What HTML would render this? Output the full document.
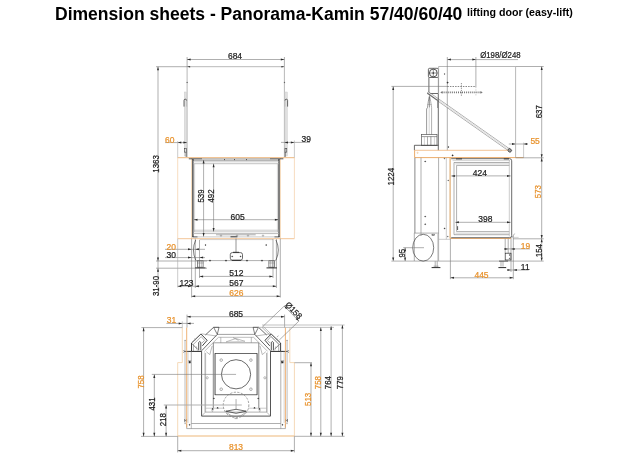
<!DOCTYPE html>
<html><head><meta charset="utf-8"><title>Dimension sheets</title>
<style>
html,body{margin:0;padding:0;background:#fff;}
body{width:624px;height:460px;overflow:hidden;position:relative;font-family:"Liberation Sans",sans-serif;}
svg{position:absolute;left:0;top:0;}
.wrap{position:absolute;left:0;top:0;width:624px;height:460px;will-change:transform;}
svg text{font-family:"Liberation Sans",sans-serif;stroke-width:0.22px;}
.title{position:absolute;left:55px;top:3.5px;font-size:17.55px;font-weight:bold;color:#000;white-space:nowrap;line-height:20px;letter-spacing:0px;}
.sub{position:absolute;left:467px;top:6px;font-size:10.65px;font-weight:bold;color:#000;white-space:nowrap;line-height:12px;}
</style></head><body>
<div class="wrap"><div class="title">Dimension sheets - Panorama-Kamin 57/40/60/40</div>
<div class="sub">lifting door (easy-lift)</div>
<svg width="624" height="460" viewBox="0 0 624 460">
<line x1="187" y1="66.7" x2="284.4" y2="66.7" stroke="#a6a6a6" stroke-width="0.8"/>
<line x1="187.1" y1="57" x2="187.1" y2="66.7" stroke="#787878" stroke-width="0.6"/>
<line x1="284.4" y1="57" x2="284.4" y2="66.7" stroke="#787878" stroke-width="0.6"/>
<line x1="187.1" y1="66.7" x2="187.1" y2="157" stroke="#a6a6a6" stroke-width="0.8"/>
<line x1="284.4" y1="66.7" x2="284.4" y2="157" stroke="#a6a6a6" stroke-width="0.8"/>
<circle cx="187.1" cy="82.4" r="0.4" fill="#2a2a2a" stroke="#2a2a2a" stroke-width="0.3"/>
<circle cx="284.4" cy="82.4" r="0.4" fill="#2a2a2a" stroke="#2a2a2a" stroke-width="0.3"/>
<rect x="184.3" y="92" width="2.4" height="64" rx="0" fill="#e0e0e0" stroke="#c4c4c4" stroke-width="0.4"/>
<rect x="284.9" y="92" width="2.4" height="64" rx="0" fill="#e0e0e0" stroke="#c4c4c4" stroke-width="0.4"/>
<path d="M184.0 106.6 V100.4 Q184.0 99.2 185.3 99.2 Q186.6 99.2 186.6 100.6" fill="none" stroke="#2a2a2a" stroke-width="0.7"/>
<path d="M287.6 106.6 V100.4 Q287.6 99.2 286.3 99.2 Q285.0 99.2 285.0 100.6" fill="none" stroke="#2a2a2a" stroke-width="0.7"/>
<line x1="186.6" y1="100.6" x2="186.6" y2="106.6" stroke="#a8a8a8" stroke-width="0.5"/>
<line x1="285.0" y1="100.6" x2="285.0" y2="106.6" stroke="#a8a8a8" stroke-width="0.5"/>
<rect x="184.6" y="148.5" width="1.8" height="3.6" rx="0" fill="none" stroke="#2a2a2a" stroke-width="0.5"/>
<rect x="285.0" y="148.5" width="1.8" height="3.6" rx="0" fill="none" stroke="#2a2a2a" stroke-width="0.5"/>
<line x1="186.2" y1="152" x2="186.2" y2="157" stroke="#2a2a2a" stroke-width="0.6"/>
<line x1="285.2" y1="152" x2="285.2" y2="157" stroke="#2a2a2a" stroke-width="0.6"/>
<polygon points="187.1,66.7 190.1,65.9 190.1,67.5" fill="#2a2a2a"/>
<polygon points="284.4,66.7 281.4,65.9 281.4,67.5" fill="#2a2a2a"/>
<line x1="187" y1="59.5" x2="284.4" y2="59.5" stroke="#787878" stroke-width="0.6"/>
<polygon points="187,59.5 190.6,58.5 190.6,60.5" fill="#2a2a2a"/>
<polygon points="284.4,59.5 280.79999999999995,58.5 280.79999999999995,60.5" fill="#2a2a2a"/>
<text transform="translate(235,59.4) scale(1,1.11)" x="0" y="0" fill="#222222" stroke="#222222" font-size="8.5" text-anchor="middle" font-weight="normal">684</text>
<line x1="156" y1="66.7" x2="187" y2="66.7" stroke="#787878" stroke-width="0.6"/>
<line x1="158" y1="66.7" x2="158" y2="296" stroke="#787878" stroke-width="0.6"/>
<polygon points="158,66.7 157.0,70.3 159.0,70.3" fill="#2a2a2a"/>
<text transform="translate(158.6,164) rotate(-90) scale(0.925,1.05)" x="0" y="0" fill="#222222" stroke="#222222" font-size="8.5" text-anchor="middle" font-weight="normal">1363</text>
<line x1="177.7" y1="157.7" x2="294.4" y2="157.7" stroke="#e9a35a" stroke-width="0.8"/>
<line x1="177.7" y1="238.7" x2="294.4" y2="238.7" stroke="#efb57c" stroke-width="0.8"/>
<line x1="177.7" y1="157.7" x2="177.7" y2="238.6" stroke="#f3cfa6" stroke-width="0.7"/>
<line x1="294.4" y1="157.7" x2="294.4" y2="238.6" stroke="#f3cfa6" stroke-width="0.7"/>
<line x1="191.6" y1="158" x2="191.6" y2="238" stroke="#f3cfa6" stroke-width="0.8"/>
<line x1="280.4" y1="158" x2="280.4" y2="238" stroke="#f3cfa6" stroke-width="0.8"/>
<line x1="165" y1="142.6" x2="187" y2="142.6" stroke="#787878" stroke-width="0.6"/>
<line x1="177.7" y1="141" x2="177.7" y2="157.7" stroke="#a8a8a8" stroke-width="0.6"/>
<polygon points="177.7,142.6 181.29999999999998,141.6 181.29999999999998,143.6" fill="#2a2a2a"/>
<polygon points="187,142.6 183.4,141.6 183.4,143.6" fill="#2a2a2a"/>
<text transform="translate(165,142.79999999999998) scale(1,1.11)" x="0" y="0" fill="#e8922c" stroke="#e8922c" font-size="8.5" text-anchor="start" font-weight="normal">60</text>
<line x1="281" y1="142.4" x2="310" y2="142.4" stroke="#787878" stroke-width="0.6"/>
<line x1="294.4" y1="140.5" x2="294.4" y2="157.7" stroke="#a8a8a8" stroke-width="0.6"/>
<polygon points="284.4,142.4 288.0,141.4 288.0,143.4" fill="#2a2a2a"/>
<polygon points="294.4,142.4 290.79999999999995,141.4 290.79999999999995,143.4" fill="#2a2a2a"/>
<text transform="translate(301.5,142.4) scale(1,1.11)" x="0" y="0" fill="#222222" stroke="#222222" font-size="8.5" text-anchor="start" font-weight="normal">39</text>
<line x1="192.9" y1="159" x2="192.9" y2="237" stroke="#2a2a2a" stroke-width="1.2"/>
<line x1="279.0" y1="159" x2="279.0" y2="237" stroke="#2a2a2a" stroke-width="1.2"/>
<line x1="188.8" y1="158.8" x2="202" y2="158.8" stroke="#2a2a2a" stroke-width="0.8"/>
<line x1="270" y1="158.8" x2="283.4" y2="158.8" stroke="#2a2a2a" stroke-width="0.8"/>
<line x1="202" y1="158.8" x2="270" y2="158.8" stroke="#787878" stroke-width="0.6"/>
<line x1="193" y1="160.2" x2="279" y2="160.2" stroke="#2a2a2a" stroke-width="0.5"/>
<line x1="193" y1="161.8" x2="279" y2="161.8" stroke="#a8a8a8" stroke-width="0.6"/>
<line x1="193" y1="163.7" x2="279" y2="163.7" stroke="#a8a8a8" stroke-width="0.7"/>
<line x1="194.6" y1="163.7" x2="194.6" y2="232" stroke="#a8a8a8" stroke-width="0.5"/>
<line x1="277.4" y1="163.7" x2="277.4" y2="232" stroke="#a8a8a8" stroke-width="0.5"/>
<line x1="193" y1="230.2" x2="279" y2="230.2" stroke="#a8a8a8" stroke-width="0.6"/>
<line x1="193" y1="231.8" x2="279" y2="231.8" stroke="#a8a8a8" stroke-width="0.6"/>
<line x1="193" y1="233.6" x2="279" y2="233.6" stroke="#a8a8a8" stroke-width="0.8"/>
<line x1="216" y1="234.8" x2="255.7" y2="234.8" stroke="#787878" stroke-width="0.6"/>
<line x1="192.4" y1="236.9" x2="197.6" y2="236.9" stroke="#2a2a2a" stroke-width="0.8"/>
<line x1="274.4" y1="236.9" x2="279.6" y2="236.9" stroke="#2a2a2a" stroke-width="0.8"/>
<line x1="197.6" y1="236.9" x2="274.4" y2="236.9" stroke="#a8a8a8" stroke-width="0.6"/>
<line x1="230.5" y1="236.8" x2="237.4" y2="236.8" stroke="#2a2a2a" stroke-width="0.9"/>
<line x1="224" y1="159.6" x2="225" y2="159.6" stroke="#2a2a2a" stroke-width="0.8"/>
<line x1="234" y1="159.6" x2="235" y2="159.6" stroke="#2a2a2a" stroke-width="0.8"/>
<line x1="246" y1="159.6" x2="247" y2="159.6" stroke="#2a2a2a" stroke-width="0.8"/>
<circle cx="221" cy="235.6" r="0.7" fill="none" stroke="#787878" stroke-width="0.5"/>
<circle cx="237" cy="235.6" r="0.7" fill="none" stroke="#787878" stroke-width="0.5"/>
<circle cx="248" cy="235.6" r="0.7" fill="none" stroke="#787878" stroke-width="0.5"/>
<circle cx="263" cy="235.6" r="0.7" fill="none" stroke="#787878" stroke-width="0.5"/>
<line x1="203.6" y1="160" x2="203.6" y2="236.6" stroke="#787878" stroke-width="0.6"/>
<polygon points="203.6,160 202.6,163.6 204.6,163.6" fill="#2a2a2a"/>
<polygon points="203.6,236.6 202.6,233.0 204.6,233.0" fill="#2a2a2a"/>
<line x1="213.6" y1="163.7" x2="213.6" y2="231.6" stroke="#787878" stroke-width="0.6"/>
<polygon points="213.6,163.7 212.6,167.29999999999998 214.6,167.29999999999998" fill="#2a2a2a"/>
<polygon points="213.6,231.6 212.6,228.0 214.6,228.0" fill="#2a2a2a"/>
<text transform="translate(203.6,196) rotate(-90) scale(0.925,1.05)" x="0" y="0" fill="#222222" stroke="#222222" font-size="8.5" text-anchor="middle" font-weight="normal">539</text>
<text transform="translate(213.6,196) rotate(-90) scale(0.925,1.05)" x="0" y="0" fill="#222222" stroke="#222222" font-size="8.5" text-anchor="middle" font-weight="normal">492</text>
<line x1="193.9" y1="219.7" x2="278.5" y2="219.7" stroke="#787878" stroke-width="0.6"/>
<polygon points="193.9,219.7 197.5,218.7 197.5,220.7" fill="#2a2a2a"/>
<polygon points="278.5,219.7 274.9,218.7 274.9,220.7" fill="#2a2a2a"/>
<text transform="translate(237.6,219.6) scale(1,1.11)" x="0" y="0" fill="#222222" stroke="#222222" font-size="8.5" text-anchor="middle" font-weight="normal">605</text>
<line x1="191.6" y1="238.6" x2="191.6" y2="297.5" stroke="#787878" stroke-width="0.6"/>
<line x1="195.3" y1="238.6" x2="195.3" y2="288" stroke="#787878" stroke-width="0.6"/>
<path d="M195.7 240 Q191.2 250 195.7 260" fill="none" stroke="#444" stroke-width="0.7"/>
<line x1="199.5" y1="240" x2="199.5" y2="278" stroke="#787878" stroke-width="0.6"/>
<line x1="195.3" y1="260.6" x2="276.2" y2="260.6" stroke="#787878" stroke-width="0.6"/>
<line x1="199.5" y1="239.6" x2="273" y2="239.6" stroke="#a8a8a8" stroke-width="0.5"/>
<circle cx="210" cy="260.6" r="0.6" fill="#2a2a2a" stroke="#2a2a2a" stroke-width="0.5"/>
<circle cx="226" cy="260.6" r="0.6" fill="#2a2a2a" stroke="#2a2a2a" stroke-width="0.5"/>
<circle cx="247" cy="260.6" r="0.6" fill="#2a2a2a" stroke="#2a2a2a" stroke-width="0.5"/>
<circle cx="262" cy="260.6" r="0.6" fill="#2a2a2a" stroke="#2a2a2a" stroke-width="0.5"/>
<circle cx="205.5" cy="245" r="0.5" fill="#2a2a2a" stroke="#2a2a2a" stroke-width="0.4"/>
<circle cx="266.2" cy="245" r="0.5" fill="#2a2a2a" stroke="#2a2a2a" stroke-width="0.4"/>
<line x1="273.0" y1="239" x2="273.0" y2="278" stroke="#787878" stroke-width="0.6"/>
<line x1="276.4" y1="239" x2="276.4" y2="288" stroke="#787878" stroke-width="0.6"/>
<line x1="280.3" y1="238.6" x2="280.3" y2="297.5" stroke="#787878" stroke-width="0.6"/>
<path d="M276.0 240 Q280.6 250 276.0 260" fill="none" stroke="#444" stroke-width="0.7"/>
<line x1="236.0" y1="238.6" x2="236.0" y2="252.5" stroke="#787878" stroke-width="0.8"/>
<rect x="230.3" y="252.6" width="12.2" height="7.6" rx="2" fill="#fff" stroke="#2a2a2a" stroke-width="0.7"/>
<line x1="233" y1="252.3" x2="239" y2="252.3" stroke="#2a2a2a" stroke-width="0.9"/>
<line x1="232" y1="260.4" x2="241" y2="260.4" stroke="#2a2a2a" stroke-width="0.9"/>
<circle cx="232.2" cy="256.4" r="0.5" fill="#2a2a2a" stroke="#2a2a2a" stroke-width="0.4"/>
<circle cx="240.6" cy="256.4" r="0.5" fill="#2a2a2a" stroke="#2a2a2a" stroke-width="0.4"/>
<rect x="197.5" y="260.8" width="5.6" height="6.4" rx="0" fill="none" stroke="#555" stroke-width="0.7"/>
<line x1="199.3" y1="260.8" x2="199.3" y2="267.4" stroke="#787878" stroke-width="0.5"/>
<line x1="201.3" y1="260.8" x2="201.3" y2="267.4" stroke="#787878" stroke-width="0.5"/>
<line x1="197.10000000000002" y1="263" x2="203.5" y2="263" stroke="#787878" stroke-width="0.5"/>
<line x1="195.10000000000002" y1="267.9" x2="205.5" y2="267.9" stroke="#2a2a2a" stroke-width="1.0"/>
<rect x="268.9" y="260.8" width="5.6" height="6.4" rx="0" fill="none" stroke="#555" stroke-width="0.7"/>
<line x1="270.7" y1="260.8" x2="270.7" y2="267.4" stroke="#787878" stroke-width="0.5"/>
<line x1="272.7" y1="260.8" x2="272.7" y2="267.4" stroke="#787878" stroke-width="0.5"/>
<line x1="268.5" y1="263" x2="274.9" y2="263" stroke="#787878" stroke-width="0.5"/>
<line x1="266.5" y1="267.9" x2="276.9" y2="267.9" stroke="#2a2a2a" stroke-width="1.0"/>
<line x1="165" y1="249.3" x2="205" y2="249.3" stroke="#787878" stroke-width="0.6"/>
<line x1="165" y1="257.6" x2="205" y2="257.6" stroke="#787878" stroke-width="0.6"/>
<polygon points="191.6,249.3 188.0,248.3 188.0,250.3" fill="#2a2a2a"/>
<polygon points="195.3,249.3 198.9,248.3 198.9,250.3" fill="#2a2a2a"/>
<polygon points="191.6,257.6 188.0,256.6 188.0,258.6" fill="#2a2a2a"/>
<polygon points="199.5,257.6 203.1,256.6 203.1,258.6" fill="#2a2a2a"/>
<text transform="translate(166.6,249.6) scale(1,1.11)" x="0" y="0" fill="#e8922c" stroke="#e8922c" font-size="8.5" text-anchor="start" font-weight="normal">20</text>
<text transform="translate(166.6,258.0) scale(1,1.11)" x="0" y="0" fill="#222222" stroke="#222222" font-size="8.5" text-anchor="start" font-weight="normal">30</text>
<line x1="156" y1="261.0" x2="207" y2="261.0" stroke="#787878" stroke-width="0.6"/>
<line x1="156" y1="268.2" x2="207" y2="268.2" stroke="#787878" stroke-width="0.6"/>
<polygon points="158,261.0 157.0,257.4 159.0,257.4" fill="#2a2a2a"/>
<polygon points="158,268.2 157.0,271.8 159.0,271.8" fill="#2a2a2a"/>
<text transform="translate(158.6,286) rotate(-90) scale(0.925,1.05)" x="0" y="0" fill="#222222" stroke="#222222" font-size="8.5" text-anchor="middle" font-weight="normal">31-90</text>
<line x1="177.7" y1="238.6" x2="177.7" y2="287.5" stroke="#a8a8a8" stroke-width="0.6"/>
<line x1="177.7" y1="286.2" x2="276.4" y2="286.2" stroke="#787878" stroke-width="0.6"/>
<polygon points="177.7,286.2 181.29999999999998,285.2 181.29999999999998,287.2" fill="#2a2a2a"/>
<polygon points="191.6,286.2 188.0,285.2 188.0,287.2" fill="#2a2a2a"/>
<polygon points="195.3,286.2 198.9,285.2 198.9,287.2" fill="#2a2a2a"/>
<polygon points="276.4,286.2 272.79999999999995,285.2 272.79999999999995,287.2" fill="#2a2a2a"/>
<text transform="translate(179.4,286.20000000000005) scale(1,1.11)" x="0" y="0" fill="#222222" stroke="#222222" font-size="8.5" text-anchor="start" font-weight="normal">123</text>
<line x1="199.5" y1="276.4" x2="273.0" y2="276.4" stroke="#787878" stroke-width="0.6"/>
<polygon points="199.5,276.4 203.1,275.4 203.1,277.4" fill="#2a2a2a"/>
<polygon points="273.0,276.4 269.4,275.4 269.4,277.4" fill="#2a2a2a"/>
<text transform="translate(229.3,276.40000000000003) scale(1,1.11)" x="0" y="0" fill="#222222" stroke="#222222" font-size="8.5" text-anchor="start" font-weight="normal">512</text>
<text transform="translate(229.3,286.20000000000005) scale(1,1.11)" x="0" y="0" fill="#222222" stroke="#222222" font-size="8.5" text-anchor="start" font-weight="normal">567</text>
<line x1="191.6" y1="296.3" x2="280.3" y2="296.3" stroke="#787878" stroke-width="0.6"/>
<polygon points="191.6,296.3 195.2,295.3 195.2,297.3" fill="#2a2a2a"/>
<polygon points="280.3,296.3 276.7,295.3 276.7,297.3" fill="#2a2a2a"/>
<text transform="translate(229.3,296.0) scale(1,1.11)" x="0" y="0" fill="#e8922c" stroke="#e8922c" font-size="8.5" text-anchor="start" font-weight="normal">626</text>
<line x1="438.6" y1="66.5" x2="515.6" y2="66.5" stroke="#a6a6a6" stroke-width="0.8"/>
<line x1="515.6" y1="66.5" x2="543.7" y2="66.5" stroke="#787878" stroke-width="0.6"/>
<line x1="447.3" y1="57" x2="447.3" y2="150.3" stroke="#787878" stroke-width="0.6"/>
<line x1="475.9" y1="57" x2="475.9" y2="87" stroke="#787878" stroke-width="0.6"/>
<line x1="475.9" y1="87" x2="475.9" y2="96" stroke="#a8a8a8" stroke-width="0.6" stroke-dasharray="1.2 1.2"/>
<line x1="447.3" y1="59.6" x2="518" y2="59.6" stroke="#787878" stroke-width="0.6"/>
<polygon points="447.3,59.6 450.90000000000003,58.6 450.90000000000003,60.6" fill="#2a2a2a"/>
<polygon points="475.9,59.6 472.29999999999995,58.6 472.29999999999995,60.6" fill="#2a2a2a"/>
<text transform="translate(480.2,58.3) scale(1,1.07)" x="0" y="0" fill="#222222" stroke="#222222" font-size="8.5" textLength="40.4" lengthAdjust="spacingAndGlyphs">Ø198/Ø248</text>
<rect x="428.4" y="68.3" width="10.0" height="9.2" rx="1.2" fill="none" stroke="#2a2a2a" stroke-width="0.7"/>
<circle cx="433.3" cy="73.0" r="3.9" fill="none" stroke="#2a2a2a" stroke-width="0.8"/>
<line x1="429.6" y1="73.0" x2="437.0" y2="73.0" stroke="#2a2a2a" stroke-width="0.5"/>
<line x1="433.3" y1="69.3" x2="433.3" y2="76.7" stroke="#2a2a2a" stroke-width="0.5"/>
<circle cx="433.3" cy="73.0" r="0.6" fill="#2a2a2a" stroke="#2a2a2a" stroke-width="0.4"/>
<line x1="428.9" y1="77.5" x2="428.9" y2="93.5" stroke="#2a2a2a" stroke-width="0.7"/>
<line x1="438.4" y1="77.5" x2="438.4" y2="93.5" stroke="#2a2a2a" stroke-width="0.6"/>
<line x1="428.9" y1="93.5" x2="438.4" y2="93.5" stroke="#2a2a2a" stroke-width="0.7"/>
<line x1="438.6" y1="66.5" x2="438.6" y2="94" stroke="#a6a6a6" stroke-width="0.8"/>
<circle cx="444.6" cy="74" r="0.4" fill="#2a2a2a" stroke="#2a2a2a" stroke-width="0.4"/>
<circle cx="447.6" cy="82.6" r="0.6" fill="#2a2a2a" stroke="#2a2a2a" stroke-width="0.5"/>
<line x1="391.4" y1="86.4" x2="447.3" y2="86.4" stroke="#787878" stroke-width="0.6"/>
<line x1="447.3" y1="86.5" x2="476" y2="86.5" stroke="#555" stroke-width="0.7" stroke-dasharray="1.5 1.1"/>
<line x1="393.2" y1="86.4" x2="393.2" y2="261" stroke="#787878" stroke-width="0.6"/>
<polygon points="393.2,86.4 392.2,90.0 394.2,90.0" fill="#2a2a2a"/>
<polygon points="393.2,261 392.2,257.4 394.2,257.4" fill="#2a2a2a"/>
<text transform="translate(393.8,176.7) rotate(-90) scale(0.925,1.05)" x="0" y="0" fill="#222222" stroke="#222222" font-size="8.5" text-anchor="middle" font-weight="normal">1224</text>
<line x1="441.6" y1="92.4" x2="481.4" y2="92.4" stroke="#666" stroke-width="1.9" stroke-dasharray="0.9 1.15"/>
<polygon points="440.2,92.4 442.59999999999997,91.30000000000001 442.59999999999997,93.5" fill="#787878"/>
<polygon points="482.8,92.4 480.40000000000003,91.30000000000001 480.40000000000003,93.5" fill="#787878"/>
<line x1="461.4" y1="83.0" x2="461.4" y2="96.2" stroke="#666" stroke-width="0.7" stroke-dasharray="1.3 1.0"/>
<line x1="428.2" y1="91.6" x2="509.6" y2="148.9" stroke="#777" stroke-width="0.6"/>
<line x1="427.0" y1="93.4" x2="508.4" y2="150.7" stroke="#777" stroke-width="0.6"/>
<line x1="427.6" y1="92.5" x2="509.0" y2="149.8" stroke="#e4e4e4" stroke-width="1.2"/>
<g transform="translate(509.6,150.3) rotate(35)"><rect x="-1.6" y="-1.5" width="3.4" height="3.0" rx="0.8" fill="#999" stroke="#2a2a2a" stroke-width="0.7"/></g>
<line x1="427.0" y1="92.8" x2="437.6" y2="100.4" stroke="#2a2a2a" stroke-width="0.7"/>
<polyline points="429.5,95.6 428.3,101.5 427.5,107.5 426.6,109.0 426.6,134.5" fill="none" stroke="#555" stroke-width="0.6"/>
<polyline points="429.5,95.6 430.7,101.5 431.6,107.5 431.6,134.5" fill="none" stroke="#787878" stroke-width="0.6"/>
<line x1="429.4" y1="97" x2="429.4" y2="107.5" stroke="#2a2a2a" stroke-width="0.5"/>
<line x1="429.2" y1="107.5" x2="429.2" y2="134.5" stroke="#a8a8a8" stroke-width="0.5"/>
<line x1="427.4" y1="104.5" x2="431.6" y2="104.5" stroke="#787878" stroke-width="0.4"/>
<line x1="438.3" y1="94" x2="438.3" y2="150.3" stroke="#444" stroke-width="0.8"/>
<line x1="437.6" y1="99.5" x2="437.6" y2="108" stroke="#787878" stroke-width="0.8"/>
<rect x="421.6" y="134.5" width="15.4" height="10.8" rx="0" fill="none" stroke="#555" stroke-width="0.7"/>
<line x1="421.6" y1="136.6" x2="437.0" y2="136.6" stroke="#555" stroke-width="0.6"/>
<line x1="427.5" y1="136.6" x2="427.5" y2="145.3" stroke="#787878" stroke-width="0.6"/>
<line x1="430.9" y1="136.6" x2="430.9" y2="145.3" stroke="#555" stroke-width="0.6"/>
<line x1="424.4" y1="136.6" x2="424.4" y2="145.3" stroke="#a8a8a8" stroke-width="0.5"/>
<line x1="434.4" y1="136.6" x2="434.4" y2="145.3" stroke="#a8a8a8" stroke-width="0.5"/>
<polyline points="414.4,150.3 414.4,145.3 438.3,145.3" fill="none" stroke="#2a2a2a" stroke-width="0.7"/>
<polyline points="414.6,150.3 414.6,157.6 523.6,157.6" fill="none" stroke="#e9a35a" stroke-width="0.9"/>
<line x1="414.6" y1="150.3" x2="507.7" y2="150.3" stroke="#efb57c" stroke-width="0.8"/>
<circle cx="417.6" cy="152.8" r="0.6" fill="none" stroke="#e9a35a" stroke-width="0.4"/>
<circle cx="448.4" cy="147.0" r="0.5" fill="#2a2a2a" stroke="#2a2a2a" stroke-width="0.4"/>
<circle cx="452.6" cy="155.4" r="0.6" fill="#2a2a2a" stroke="#2a2a2a" stroke-width="0.5"/>
<line x1="414.9" y1="157.8" x2="414.9" y2="233.1" stroke="#555" stroke-width="0.7"/>
<line x1="421.0" y1="157.8" x2="421.0" y2="233.1" stroke="#787878" stroke-width="0.6"/>
<line x1="438.6" y1="157.8" x2="438.6" y2="261" stroke="#787878" stroke-width="0.6"/>
<line x1="446.3" y1="157.8" x2="446.3" y2="239.3" stroke="#a8a8a8" stroke-width="0.6"/>
<circle cx="425.2" cy="161.4" r="0.5" fill="#2a2a2a" stroke="#2a2a2a" stroke-width="0.4"/>
<circle cx="425.2" cy="216.6" r="0.5" fill="#2a2a2a" stroke="#2a2a2a" stroke-width="0.4"/>
<circle cx="425.2" cy="224.2" r="0.5" fill="#2a2a2a" stroke="#2a2a2a" stroke-width="0.4"/>
<circle cx="444.4" cy="158.6" r="0.4" fill="#2a2a2a" stroke="#2a2a2a" stroke-width="0.4"/>
<circle cx="448.2" cy="180.4" r="0.4" fill="#2a2a2a" stroke="#2a2a2a" stroke-width="0.4"/>
<circle cx="444.6" cy="228.4" r="0.5" fill="#2a2a2a" stroke="#2a2a2a" stroke-width="0.4"/>
<line x1="450.1" y1="157.8" x2="450.1" y2="238.5" stroke="#dba565" stroke-width="1.1"/>
<line x1="450.4" y1="238.5" x2="511.0" y2="238.5" stroke="#eeaa66" stroke-width="0.9"/>
<path d="M451.2 158.7 H509.6 Q511.7 158.7 511.7 160.8 V235.6 Q511.7 237.7 509.6 237.7 H451.2" fill="none" stroke="#444" stroke-width="0.8"/>
<line x1="452.6" y1="160.6" x2="510" y2="160.6" stroke="#a8a8a8" stroke-width="0.5"/>
<polyline points="509.3,162.5 454.0,162.5 454.0,234.7 509.3,234.7" fill="none" stroke="#787878" stroke-width="0.6"/>
<polyline points="509.3,165.4 456.6,165.4 456.6,231.6 509.3,231.6" fill="none" stroke="#787878" stroke-width="0.6"/>
<line x1="509.3" y1="160" x2="509.3" y2="236.4" stroke="#a8a8a8" stroke-width="0.6"/>
<line x1="455.4" y1="233.2" x2="509.3" y2="233.2" stroke="#a8a8a8" stroke-width="0.5"/>
<line x1="455.2" y1="163.9" x2="509.3" y2="163.9" stroke="#a8a8a8" stroke-width="0.5"/>
<line x1="503.8" y1="158.9" x2="509.0" y2="158.9" stroke="#2a2a2a" stroke-width="0.9"/>
<line x1="456.0" y1="158.9" x2="462.0" y2="158.9" stroke="#2a2a2a" stroke-width="0.9"/>
<line x1="451.3" y1="175.9" x2="510.6" y2="175.9" stroke="#787878" stroke-width="0.6"/>
<polygon points="451.3,175.9 454.90000000000003,174.9 454.90000000000003,176.9" fill="#2a2a2a"/>
<polygon points="510.6,175.9 507.0,174.9 507.0,176.9" fill="#2a2a2a"/>
<text transform="translate(479.9,175.79999999999998) scale(1,1.11)" x="0" y="0" fill="#222222" stroke="#222222" font-size="8.5" text-anchor="middle" font-weight="normal">424</text>
<line x1="455.3" y1="222.3" x2="510.6" y2="222.3" stroke="#787878" stroke-width="0.6"/>
<polygon points="455.3,222.3 458.90000000000003,221.3 458.90000000000003,223.3" fill="#2a2a2a"/>
<polygon points="510.6,222.3 507.0,221.3 507.0,223.3" fill="#2a2a2a"/>
<text transform="translate(485.3,222.2) scale(1,1.11)" x="0" y="0" fill="#222222" stroke="#222222" font-size="8.5" text-anchor="middle" font-weight="normal">398</text>
<line x1="457.6" y1="226.2" x2="457.6" y2="230.0" stroke="#2a2a2a" stroke-width="0.8"/>
<line x1="508.8" y1="144.0" x2="528" y2="144.0" stroke="#787878" stroke-width="0.6"/>
<line x1="523.6" y1="142.6" x2="523.6" y2="157.8" stroke="#a8a8a8" stroke-width="0.6"/>
<line x1="515.6" y1="66.5" x2="515.6" y2="157.8" stroke="#a6a6a6" stroke-width="0.8"/>
<polygon points="515.6,144.0 512.0,143.0 512.0,145.0" fill="#2a2a2a"/>
<polygon points="523.6,144.0 527.2,143.0 527.2,145.0" fill="#2a2a2a"/>
<text transform="translate(530.4,144.2) scale(1,1.11)" x="0" y="0" fill="#e8922c" stroke="#e8922c" font-size="8.5" text-anchor="start" font-weight="normal">55</text>
<line x1="515.6" y1="157.8" x2="543.7" y2="157.8" stroke="#787878" stroke-width="0.6"/>
<line x1="541.7" y1="66.5" x2="541.7" y2="261.1" stroke="#787878" stroke-width="0.6"/>
<polygon points="541.7,66.5 540.7,70.1 542.7,70.1" fill="#2a2a2a"/>
<polygon points="541.7,157.8 540.7,154.20000000000002 542.7,154.20000000000002" fill="#2a2a2a"/>
<polygon points="541.7,157.8 540.7,161.4 542.7,161.4" fill="#2a2a2a"/>
<polygon points="541.7,238.7 540.7,235.1 542.7,235.1" fill="#2a2a2a"/>
<polygon points="541.7,238.7 540.7,242.29999999999998 542.7,242.29999999999998" fill="#2a2a2a"/>
<polygon points="541.7,261.1 540.7,257.5 542.7,257.5" fill="#2a2a2a"/>
<text transform="translate(542.0,111.7) rotate(-90) scale(0.925,1.05)" x="0" y="0" fill="#222222" stroke="#222222" font-size="8.5" text-anchor="middle" font-weight="normal">637</text>
<text transform="translate(541.2,191.6) rotate(-90) scale(0.925,1.05)" x="0" y="0" fill="#e8922c" stroke="#e8922c" font-size="8.5" text-anchor="middle" font-weight="normal">573</text>
<text transform="translate(541.8000000000001,250.6) rotate(-90) scale(0.925,1.05)" x="0" y="0" fill="#222222" stroke="#222222" font-size="8.5" text-anchor="middle" font-weight="normal">154</text>
<line x1="513.2" y1="238.8" x2="543.7" y2="238.8" stroke="#787878" stroke-width="0.6"/>
<line x1="391.4" y1="261.1" x2="543.7" y2="261.1" stroke="#a8a8a8" stroke-width="0.9"/>
<polyline points="414.3,261 414.3,233.1 438.6,233.1" fill="none" stroke="#787878" stroke-width="0.6"/>
<ellipse cx="423.2" cy="247.7" rx="10.5" ry="13.4" fill="none" stroke="#444" stroke-width="0.7"/>
<line x1="403.2" y1="247.7" x2="424.0" y2="247.7" stroke="#787878" stroke-width="0.6"/>
<line x1="421.0" y1="233.1" x2="421.0" y2="236" stroke="#787878" stroke-width="0.5"/>
<rect x="432.0" y="234.2" width="2.6" height="1.4" rx="0" fill="none" stroke="#2a2a2a" stroke-width="0.5"/>
<line x1="437.6" y1="234" x2="437.6" y2="261" stroke="#a8a8a8" stroke-width="0.5"/>
<line x1="405.1" y1="247.7" x2="405.1" y2="261" stroke="#787878" stroke-width="0.6"/>
<polygon points="405.1,247.7 404.1,251.29999999999998 406.1,251.29999999999998" fill="#2a2a2a"/>
<polygon points="405.1,261 404.1,257.4 406.1,257.4" fill="#2a2a2a"/>
<text transform="translate(405.40000000000003,253.2) rotate(-90) scale(0.925,1.05)" x="0" y="0" fill="#222222" stroke="#222222" font-size="8.5" text-anchor="middle" font-weight="normal">95</text>
<line x1="435.2" y1="261.2" x2="435.2" y2="267" stroke="#787878" stroke-width="0.6"/>
<line x1="437.2" y1="261.2" x2="437.2" y2="267" stroke="#787878" stroke-width="0.6"/>
<line x1="431.6" y1="267.6" x2="440.4" y2="267.6" stroke="#2a2a2a" stroke-width="1.0"/>
<line x1="433.6" y1="266.2" x2="438.6" y2="266.2" stroke="#787878" stroke-width="0.6"/>
<line x1="438.6" y1="239.3" x2="450.4" y2="239.3" stroke="#a8a8a8" stroke-width="0.6"/>
<line x1="450.4" y1="238.5" x2="450.4" y2="279.2" stroke="#787878" stroke-width="0.6"/>
<circle cx="447.8" cy="236.6" r="0.4" fill="#2a2a2a" stroke="#2a2a2a" stroke-width="0.4"/>
<line x1="505.2" y1="238.6" x2="505.2" y2="253.2" stroke="#787878" stroke-width="0.6"/>
<line x1="508.2" y1="238.6" x2="508.2" y2="253.2" stroke="#787878" stroke-width="0.6"/>
<line x1="511.0" y1="238.6" x2="511.0" y2="272" stroke="#787878" stroke-width="0.6"/>
<line x1="513.3" y1="236" x2="513.3" y2="279.2" stroke="#787878" stroke-width="0.6"/>
<rect x="505.2" y="253.2" width="5.8" height="6.8" rx="0" fill="none" stroke="#2a2a2a" stroke-width="0.7"/>
<circle cx="509.6" cy="255.0" r="0.4" fill="#2a2a2a" stroke="#2a2a2a" stroke-width="0.4"/>
<circle cx="509.6" cy="258.4" r="0.4" fill="#2a2a2a" stroke="#2a2a2a" stroke-width="0.4"/>
<line x1="501.0" y1="261.2" x2="501.0" y2="266.6" stroke="#787878" stroke-width="0.6"/>
<line x1="503.0" y1="261.2" x2="503.0" y2="266.6" stroke="#787878" stroke-width="0.6"/>
<line x1="498.4" y1="267.6" x2="506.2" y2="267.6" stroke="#2a2a2a" stroke-width="1.0"/>
<line x1="499.0" y1="261.1" x2="508" y2="261.1" stroke="#2a2a2a" stroke-width="0.7"/>
<line x1="511.4" y1="238.4" x2="514.6" y2="233.6" stroke="#787878" stroke-width="0.6"/>
<line x1="513.3" y1="237.4" x2="518.6" y2="237.4" stroke="#a8a8a8" stroke-width="0.5"/>
<line x1="504.0" y1="248.9" x2="530.0" y2="248.9" stroke="#787878" stroke-width="0.6"/>
<polygon points="508.2,248.9 504.59999999999997,247.9 504.59999999999997,249.9" fill="#2a2a2a"/>
<polygon points="511.0,248.9 514.6,247.9 514.6,249.9" fill="#2a2a2a"/>
<text transform="translate(520.8,248.79999999999998) scale(1,1.11)" x="0" y="0" fill="#e8922c" stroke="#e8922c" font-size="8.5" text-anchor="start" font-weight="normal">19</text>
<line x1="507.6" y1="270.0" x2="528.6" y2="270.0" stroke="#787878" stroke-width="0.6"/>
<polygon points="511.0,270.0 507.4,269.0 507.4,271.0" fill="#2a2a2a"/>
<polygon points="513.3,270.0 516.9,269.0 516.9,271.0" fill="#2a2a2a"/>
<text transform="translate(520.8,270.40000000000003) scale(1,1.11)" x="0" y="0" fill="#222222" stroke="#222222" font-size="8.5" text-anchor="start" font-weight="normal">11</text>
<line x1="450.4" y1="277.8" x2="513.3" y2="277.8" stroke="#787878" stroke-width="0.6"/>
<polygon points="450.4,277.8 454.0,276.8 454.0,278.8" fill="#2a2a2a"/>
<polygon points="513.3,277.8 509.69999999999993,276.8 509.69999999999993,278.8" fill="#2a2a2a"/>
<text transform="translate(481.5,277.6) scale(1,1.11)" x="0" y="0" fill="#e8922c" stroke="#e8922c" font-size="8.5" text-anchor="middle" font-weight="normal">445</text>
<g>
<line x1="213.9" y1="327.4" x2="236.05" y2="327.4" stroke="#787878" stroke-width="0.6"/>
<line x1="217.3" y1="334.4" x2="236.05" y2="334.4" stroke="#787878" stroke-width="0.7"/>
<line x1="218.5" y1="337.3" x2="236.05" y2="337.3" stroke="#787878" stroke-width="0.5"/>
<line x1="220.8" y1="337.3" x2="220.8" y2="342.8" stroke="#787878" stroke-width="0.5"/>
<line x1="213.3" y1="342.8" x2="236.05" y2="342.8" stroke="#787878" stroke-width="0.7"/>
<polygon points="213.6,327.3 219.0,327.3 217.3,334.4" fill="none" stroke="#2a2a2a" stroke-width="0.6"/>
<line x1="213.6" y1="327.3" x2="205.4" y2="335.0" stroke="#2a2a2a" stroke-width="0.7"/>
<line x1="216.4" y1="336.0" x2="201.4" y2="333.8" stroke="#787878" stroke-width="0.5"/>
<polyline points="191.5,351.0 191.5,343.0 200.9,334.0 207.1,340.3 202.4,345.8" fill="none" stroke="#2a2a2a" stroke-width="0.9"/>
<line x1="192.0" y1="343.6" x2="197.0" y2="348.8" stroke="#2a2a2a" stroke-width="0.6"/>
<polyline points="193.4,351.2 193.4,344.4 201.2,336.6 204.6,340.4 202.0,343.0" fill="none" stroke="#787878" stroke-width="0.6"/>
<line x1="194.4" y1="338.6" x2="196.0" y2="340.2" stroke="#787878" stroke-width="0.5"/>
<path d="M198.7 350.4 L198.7 342.4 Q199.7 340.6 200.8 342.4 L200.8 350.4" fill="none" stroke="#2a2a2a" stroke-width="0.8"/>
<line x1="196.4" y1="346.4" x2="197.4" y2="350.6" stroke="#787878" stroke-width="0.5"/>
<line x1="183.9" y1="351.4" x2="201.6" y2="351.4" stroke="#2a2a2a" stroke-width="1.0"/>
<polyline points="183.6,350.2 184.8,351.4 183.6,352.6" fill="none" stroke="#2a2a2a" stroke-width="0.7"/>
<line x1="217.3" y1="334.4" x2="201.6" y2="350.8" stroke="#2a2a2a" stroke-width="0.7"/>
<line x1="218.5" y1="337.3" x2="204.4" y2="351.4" stroke="#787878" stroke-width="0.5"/>
<polyline points="212.1,346.0 209.8,354.6 206.3,351.7" fill="none" stroke="#787878" stroke-width="0.5"/>
<line x1="201.6" y1="351.2" x2="201.6" y2="416.1" stroke="#2a2a2a" stroke-width="0.8"/>
<line x1="204.8" y1="352.4" x2="204.8" y2="412.1" stroke="#a8a8a8" stroke-width="0.6"/>
<line x1="205.6" y1="353" x2="205.6" y2="412.1" stroke="#787878" stroke-width="0.5"/>
<line x1="213.3" y1="342.8" x2="213.3" y2="408.2" stroke="#555" stroke-width="0.7"/>
<line x1="214.6" y1="353.6" x2="214.6" y2="395" stroke="#a8a8a8" stroke-width="0.5"/>
<line x1="201.6" y1="416.1" x2="236.05" y2="416.1" stroke="#2a2a2a" stroke-width="0.8"/>
<line x1="205.4" y1="412.1" x2="236.05" y2="412.1" stroke="#787878" stroke-width="0.6"/>
<line x1="201.6" y1="416.1" x2="205.4" y2="412.1" stroke="#787878" stroke-width="0.5"/>
<line x1="205.4" y1="408.2" x2="224" y2="408.2" stroke="#a8a8a8" stroke-width="0.6"/>
<polygon points="211.9,409.4 212.6,408.0 213.3,409.4" fill="#2a2a2a" stroke="#2a2a2a" stroke-width="0.4"/>
<polygon points="216.9,408.3 217.6,407.0 218.3,408.3" fill="#2a2a2a" stroke="#2a2a2a" stroke-width="0.4"/>
<circle cx="212.4" cy="410.8" r="0.7" fill="none" stroke="#787878" stroke-width="0.4"/>
<circle cx="207.2" cy="377.8" r="1.1" fill="none" stroke="#787878" stroke-width="0.5"/>
<circle cx="213.9" cy="398.4" r="0.5" fill="#2a2a2a" stroke="#2a2a2a" stroke-width="0.4"/>
<line x1="185.0" y1="340.4" x2="185.0" y2="423" stroke="#b4b4b4" stroke-width="0.9"/>
<line x1="184.6" y1="340.4" x2="185.6" y2="340.4" stroke="#2a2a2a" stroke-width="0.6"/>
<line x1="188.0" y1="351.4" x2="188.0" y2="423" stroke="#a8a8a8" stroke-width="0.5"/>
<line x1="191.3" y1="351.4" x2="191.3" y2="423.5" stroke="#787878" stroke-width="0.6"/>
<line x1="191.3" y1="423.5" x2="236.05" y2="423.5" stroke="#787878" stroke-width="0.6"/>
<line x1="186.7" y1="428.6" x2="236.05" y2="428.6" stroke="#787878" stroke-width="0.6"/>
<polyline points="186.7,424 186.7,428.6" fill="none" stroke="#787878" stroke-width="0.6"/>
<line x1="191.3" y1="423.5" x2="191.3" y2="428.6" stroke="#787878" stroke-width="0.5"/>
<circle cx="189.6" cy="424.8" r="0.5" fill="#2a2a2a" stroke="#2a2a2a" stroke-width="0.4"/>
<polyline points="184.6,421.8 184.6,419.4 185.6,420.6 186.6,419.4 186.6,421.8" fill="none" stroke="#2a2a2a" stroke-width="0.5"/>
<line x1="184.6" y1="423.6" x2="185.6" y2="423.6" stroke="#2a2a2a" stroke-width="0.6"/>
<rect x="189.0" y="361.6" width="1.4" height="1.4" rx="0" fill="#2a2a2a" stroke="#2a2a2a" stroke-width="0.5"/>
<line x1="188.0" y1="360.6" x2="191.3" y2="360.6" stroke="#787878" stroke-width="0.5"/>
<line x1="186.7" y1="327.6" x2="186.7" y2="427.4" stroke="#eeaa66" stroke-width="0.9"/>
<polyline points="182.3,327.6 182.3,362.6 177.7,362.6 177.7,436.3" fill="none" stroke="#f3cfa6" stroke-width="0.8"/>
<line x1="177.7" y1="436.0" x2="236.05" y2="436.0" stroke="#f3cfa6" stroke-width="1.4"/>
</g>
<g transform="translate(472.1,0) scale(-1,1)">
<line x1="213.9" y1="327.4" x2="236.05" y2="327.4" stroke="#787878" stroke-width="0.6"/>
<line x1="217.3" y1="334.4" x2="236.05" y2="334.4" stroke="#787878" stroke-width="0.7"/>
<line x1="218.5" y1="337.3" x2="236.05" y2="337.3" stroke="#787878" stroke-width="0.5"/>
<line x1="220.8" y1="337.3" x2="220.8" y2="342.8" stroke="#787878" stroke-width="0.5"/>
<line x1="213.3" y1="342.8" x2="236.05" y2="342.8" stroke="#787878" stroke-width="0.7"/>
<polygon points="213.6,327.3 219.0,327.3 217.3,334.4" fill="none" stroke="#2a2a2a" stroke-width="0.6"/>
<line x1="213.6" y1="327.3" x2="205.4" y2="335.0" stroke="#2a2a2a" stroke-width="0.7"/>
<line x1="216.4" y1="336.0" x2="201.4" y2="333.8" stroke="#787878" stroke-width="0.5"/>
<polyline points="191.5,351.0 191.5,343.0 200.9,334.0 207.1,340.3 202.4,345.8" fill="none" stroke="#2a2a2a" stroke-width="0.9"/>
<line x1="192.0" y1="343.6" x2="197.0" y2="348.8" stroke="#2a2a2a" stroke-width="0.6"/>
<polyline points="193.4,351.2 193.4,344.4 201.2,336.6 204.6,340.4 202.0,343.0" fill="none" stroke="#787878" stroke-width="0.6"/>
<line x1="194.4" y1="338.6" x2="196.0" y2="340.2" stroke="#787878" stroke-width="0.5"/>
<path d="M198.7 350.4 L198.7 342.4 Q199.7 340.6 200.8 342.4 L200.8 350.4" fill="none" stroke="#2a2a2a" stroke-width="0.8"/>
<line x1="196.4" y1="346.4" x2="197.4" y2="350.6" stroke="#787878" stroke-width="0.5"/>
<line x1="183.9" y1="351.4" x2="201.6" y2="351.4" stroke="#2a2a2a" stroke-width="1.0"/>
<polyline points="183.6,350.2 184.8,351.4 183.6,352.6" fill="none" stroke="#2a2a2a" stroke-width="0.7"/>
<line x1="217.3" y1="334.4" x2="201.6" y2="350.8" stroke="#2a2a2a" stroke-width="0.7"/>
<line x1="218.5" y1="337.3" x2="204.4" y2="351.4" stroke="#787878" stroke-width="0.5"/>
<polyline points="212.1,346.0 209.8,354.6 206.3,351.7" fill="none" stroke="#787878" stroke-width="0.5"/>
<line x1="201.6" y1="351.2" x2="201.6" y2="416.1" stroke="#2a2a2a" stroke-width="0.8"/>
<line x1="204.8" y1="352.4" x2="204.8" y2="412.1" stroke="#a8a8a8" stroke-width="0.6"/>
<line x1="205.6" y1="353" x2="205.6" y2="412.1" stroke="#787878" stroke-width="0.5"/>
<line x1="213.3" y1="342.8" x2="213.3" y2="408.2" stroke="#555" stroke-width="0.7"/>
<line x1="214.6" y1="353.6" x2="214.6" y2="395" stroke="#a8a8a8" stroke-width="0.5"/>
<line x1="201.6" y1="416.1" x2="236.05" y2="416.1" stroke="#2a2a2a" stroke-width="0.8"/>
<line x1="205.4" y1="412.1" x2="236.05" y2="412.1" stroke="#787878" stroke-width="0.6"/>
<line x1="201.6" y1="416.1" x2="205.4" y2="412.1" stroke="#787878" stroke-width="0.5"/>
<line x1="205.4" y1="408.2" x2="224" y2="408.2" stroke="#a8a8a8" stroke-width="0.6"/>
<polygon points="211.9,409.4 212.6,408.0 213.3,409.4" fill="#2a2a2a" stroke="#2a2a2a" stroke-width="0.4"/>
<polygon points="216.9,408.3 217.6,407.0 218.3,408.3" fill="#2a2a2a" stroke="#2a2a2a" stroke-width="0.4"/>
<circle cx="212.4" cy="410.8" r="0.7" fill="none" stroke="#787878" stroke-width="0.4"/>
<circle cx="207.2" cy="377.8" r="1.1" fill="none" stroke="#787878" stroke-width="0.5"/>
<circle cx="213.9" cy="398.4" r="0.5" fill="#2a2a2a" stroke="#2a2a2a" stroke-width="0.4"/>
<line x1="185.0" y1="340.4" x2="185.0" y2="423" stroke="#b4b4b4" stroke-width="0.9"/>
<line x1="184.6" y1="340.4" x2="185.6" y2="340.4" stroke="#2a2a2a" stroke-width="0.6"/>
<line x1="188.0" y1="351.4" x2="188.0" y2="423" stroke="#a8a8a8" stroke-width="0.5"/>
<line x1="191.3" y1="351.4" x2="191.3" y2="423.5" stroke="#787878" stroke-width="0.6"/>
<line x1="191.3" y1="423.5" x2="236.05" y2="423.5" stroke="#787878" stroke-width="0.6"/>
<line x1="186.7" y1="428.6" x2="236.05" y2="428.6" stroke="#787878" stroke-width="0.6"/>
<polyline points="186.7,424 186.7,428.6" fill="none" stroke="#787878" stroke-width="0.6"/>
<line x1="191.3" y1="423.5" x2="191.3" y2="428.6" stroke="#787878" stroke-width="0.5"/>
<circle cx="189.6" cy="424.8" r="0.5" fill="#2a2a2a" stroke="#2a2a2a" stroke-width="0.4"/>
<polyline points="184.6,421.8 184.6,419.4 185.6,420.6 186.6,419.4 186.6,421.8" fill="none" stroke="#2a2a2a" stroke-width="0.5"/>
<line x1="184.6" y1="423.6" x2="185.6" y2="423.6" stroke="#2a2a2a" stroke-width="0.6"/>
<rect x="189.0" y="361.6" width="1.4" height="1.4" rx="0" fill="#2a2a2a" stroke="#2a2a2a" stroke-width="0.5"/>
<line x1="188.0" y1="360.6" x2="191.3" y2="360.6" stroke="#787878" stroke-width="0.5"/>
<line x1="186.7" y1="327.6" x2="186.7" y2="427.4" stroke="#eeaa66" stroke-width="0.9"/>
<polyline points="182.3,327.6 182.3,362.6 177.7,362.6 177.7,436.3" fill="none" stroke="#f3cfa6" stroke-width="0.8"/>
<line x1="177.7" y1="436.0" x2="236.05" y2="436.0" stroke="#f3cfa6" stroke-width="1.4"/>
</g>
<line x1="263.4" y1="326.6" x2="280.0" y2="342.6" stroke="#787878" stroke-width="0.5"/>
<line x1="262.0" y1="327.4" x2="279.2" y2="344.0" stroke="#787878" stroke-width="0.5"/>
<line x1="277.0" y1="337.2" x2="278.4" y2="335.6" stroke="#787878" stroke-width="0.6"/>
<rect x="215.1" y="353.6" width="41.9" height="41.2" rx="0" fill="none" stroke="#383838" stroke-width="0.75"/>
<circle cx="236.05" cy="374.3" r="14.6" fill="none" stroke="#383838" stroke-width="0.75"/>
<circle cx="221.2" cy="360.1" r="1.3" fill="none" stroke="#787878" stroke-width="0.6"/>
<circle cx="221.2" cy="389.2" r="1.3" fill="none" stroke="#787878" stroke-width="0.6"/>
<circle cx="250.9" cy="360.1" r="1.3" fill="none" stroke="#787878" stroke-width="0.6"/>
<circle cx="250.9" cy="389.2" r="1.3" fill="none" stroke="#787878" stroke-width="0.6"/>
<polyline points="226.0,341.9 235.8,338.5 245.0,341.3" fill="none" stroke="#787878" stroke-width="0.5"/>
<polyline points="233.0,337.6 238.6,340.4" fill="none" stroke="#787878" stroke-width="0.5"/>
<line x1="226.0" y1="341.9" x2="245.0" y2="341.3" stroke="#a8a8a8" stroke-width="0.5"/>
<circle cx="236.05" cy="405.0" r="12.8" fill="none" stroke="#787878" stroke-width="0.7" stroke-dasharray="2.2 1.4"/>
<line x1="236.05" y1="399.1" x2="236.05" y2="409.3" stroke="#787878" stroke-width="0.6"/>
<polygon points="225.8,411.2 236.05,409.3 246.3,411.2 236.05,413.3" fill="none" stroke="#2a2a2a" stroke-width="0.7"/>
<path d="M226.6 412.6 Q236 421 245.6 412.6" fill="none" stroke="#787878" stroke-width="0.6"/>
<line x1="234.6" y1="418.6" x2="237.6" y2="418.6" stroke="#787878" stroke-width="0.6"/>
<line x1="151.8" y1="374.4" x2="236.05" y2="374.4" stroke="#787878" stroke-width="0.6"/>
<line x1="163.8" y1="405.0" x2="241.8" y2="405.0" stroke="#a8a8a8" stroke-width="0.9"/>
<line x1="187.0" y1="316.7" x2="284.6" y2="316.7" stroke="#787878" stroke-width="0.6"/>
<polygon points="187.0,316.7 190.6,315.7 190.6,317.7" fill="#2a2a2a"/>
<polygon points="284.6,316.7 281.0,315.7 281.0,317.7" fill="#2a2a2a"/>
<line x1="187.0" y1="314.6" x2="187.0" y2="327.6" stroke="#787878" stroke-width="0.6"/>
<line x1="284.6" y1="314.6" x2="284.6" y2="327.6" stroke="#787878" stroke-width="0.6"/>
<text transform="translate(236,316.6) scale(1,1.11)" x="0" y="0" fill="#222222" stroke="#222222" font-size="8.5" text-anchor="middle" font-weight="normal">685</text>
<line x1="166.4" y1="323.4" x2="194" y2="323.4" stroke="#787878" stroke-width="0.6"/>
<line x1="182.3" y1="321.4" x2="182.3" y2="327.6" stroke="#a8a8a8" stroke-width="0.6"/>
<polygon points="182.3,323.4 178.70000000000002,322.4 178.70000000000002,324.4" fill="#2a2a2a"/>
<polygon points="187.0,323.4 190.6,322.4 190.6,324.4" fill="#2a2a2a"/>
<text transform="translate(166.8,323.40000000000003) scale(1,1.11)" x="0" y="0" fill="#e8922c" stroke="#e8922c" font-size="8.5" text-anchor="start" font-weight="normal">31</text>
<line x1="141.4" y1="327.6" x2="182.3" y2="327.6" stroke="#787878" stroke-width="0.6"/>
<line x1="141.0" y1="436.4" x2="177.7" y2="436.4" stroke="#787878" stroke-width="0.6"/>
<line x1="143.6" y1="327.6" x2="143.6" y2="436.4" stroke="#787878" stroke-width="0.6"/>
<polygon points="143.6,327.6 142.6,331.20000000000005 144.6,331.20000000000005" fill="#2a2a2a"/>
<polygon points="143.6,436.4 142.6,432.79999999999995 144.6,432.79999999999995" fill="#2a2a2a"/>
<line x1="154.3" y1="374.4" x2="154.3" y2="436.4" stroke="#787878" stroke-width="0.6"/>
<polygon points="154.3,374.4 153.3,378.0 155.3,378.0" fill="#2a2a2a"/>
<polygon points="154.3,436.4 153.3,432.79999999999995 155.3,432.79999999999995" fill="#2a2a2a"/>
<line x1="166.1" y1="405.0" x2="166.1" y2="436.4" stroke="#787878" stroke-width="0.6"/>
<polygon points="166.1,405.0 165.1,408.6 167.1,408.6" fill="#2a2a2a"/>
<polygon points="166.1,436.4 165.1,432.79999999999995 167.1,432.79999999999995" fill="#2a2a2a"/>
<text transform="translate(143.79999999999998,382) rotate(-90) scale(0.925,1.05)" x="0" y="0" fill="#e8922c" stroke="#e8922c" font-size="8.5" text-anchor="middle" font-weight="normal">758</text>
<text transform="translate(154.6,404) rotate(-90) scale(0.925,1.05)" x="0" y="0" fill="#222222" stroke="#222222" font-size="8.5" text-anchor="middle" font-weight="normal">431</text>
<text transform="translate(166.4,419.8) rotate(-90) scale(0.925,1.05)" x="0" y="0" fill="#222222" stroke="#222222" font-size="8.5" text-anchor="middle" font-weight="normal">218</text>
<line x1="177.7" y1="436.4" x2="177.7" y2="452.4" stroke="#787878" stroke-width="0.6"/>
<line x1="294.4" y1="436.4" x2="294.4" y2="452.4" stroke="#787878" stroke-width="0.6"/>
<line x1="177.7" y1="450.7" x2="294.4" y2="450.7" stroke="#787878" stroke-width="0.6"/>
<polygon points="177.7,450.7 181.29999999999998,449.7 181.29999999999998,451.7" fill="#2a2a2a"/>
<polygon points="294.4,450.7 290.79999999999995,449.7 290.79999999999995,451.7" fill="#2a2a2a"/>
<text transform="translate(236,450.40000000000003) scale(1,1.11)" x="0" y="0" fill="#e8922c" stroke="#e8922c" font-size="8.5" text-anchor="middle" font-weight="normal">813</text>
<line x1="262" y1="325.0" x2="344.6" y2="325.0" stroke="#a8a8a8" stroke-width="0.7"/>
<line x1="258" y1="327.4" x2="334.0" y2="327.4" stroke="#a8a8a8" stroke-width="0.7"/>
<line x1="294.4" y1="362.7" x2="312.0" y2="362.7" stroke="#787878" stroke-width="0.6"/>
<line x1="294.4" y1="436.3" x2="344.6" y2="436.3" stroke="#787878" stroke-width="0.6"/>
<line x1="311.0" y1="362.7" x2="311.0" y2="436.3" stroke="#787878" stroke-width="0.6"/>
<polygon points="311.0,362.7 310.0,366.3 312.0,366.3" fill="#2a2a2a"/>
<polygon points="311.0,436.3 310.0,432.7 312.0,432.7" fill="#2a2a2a"/>
<line x1="320.8" y1="327.4" x2="320.8" y2="436.3" stroke="#787878" stroke-width="0.6"/>
<polygon points="320.8,327.4 319.8,331.0 321.8,331.0" fill="#2a2a2a"/>
<polygon points="320.8,436.3 319.8,432.7 321.8,432.7" fill="#2a2a2a"/>
<line x1="331.1" y1="326.2" x2="331.1" y2="436.3" stroke="#787878" stroke-width="0.6"/>
<polygon points="331.1,326.2 330.1,329.8 332.1,329.8" fill="#2a2a2a"/>
<polygon points="331.1,436.3 330.1,432.7 332.1,432.7" fill="#2a2a2a"/>
<line x1="342.4" y1="325.0" x2="342.4" y2="436.3" stroke="#787878" stroke-width="0.6"/>
<polygon points="342.4,325.0 341.4,328.6 343.4,328.6" fill="#2a2a2a"/>
<polygon points="342.4,436.3 341.4,432.7 343.4,432.7" fill="#2a2a2a"/>
<text transform="translate(311.20000000000005,399.4) rotate(-90) scale(0.925,1.05)" x="0" y="0" fill="#e8922c" stroke="#e8922c" font-size="8.5" text-anchor="middle" font-weight="normal">513</text>
<text transform="translate(321.20000000000005,382.6) rotate(-90) scale(0.925,1.05)" x="0" y="0" fill="#e8922c" stroke="#e8922c" font-size="8.5" text-anchor="middle" font-weight="normal">758</text>
<text transform="translate(331.40000000000003,382.6) rotate(-90) scale(0.925,1.05)" x="0" y="0" fill="#222222" stroke="#222222" font-size="8.5" text-anchor="middle" font-weight="normal">764</text>
<text transform="translate(342.8,382.6) rotate(-90) scale(0.925,1.05)" x="0" y="0" fill="#222222" stroke="#222222" font-size="8.5" text-anchor="middle" font-weight="normal">779</text>
<line x1="262.4" y1="326.9" x2="284.2" y2="306.1" stroke="#787878" stroke-width="0.6"/>
<line x1="279.3" y1="340.0" x2="298.9" y2="321.1" stroke="#787878" stroke-width="0.6"/>
<line x1="284.2" y1="306.1" x2="298.9" y2="321.1" stroke="#787878" stroke-width="0.6"/>
<g transform="translate(284.2,306.1) rotate(45.6)"><polygon points="0,0 3.6,-1.0 3.6,1.0" fill="#2a2a2a"/></g>
<g transform="translate(298.9,321.1) rotate(45.6)"><polygon points="0,0 -3.6,-1.0 -3.6,1.0" fill="#2a2a2a"/></g>
<text transform="translate(284.7,305.3) rotate(45.6)" x="0" y="0" fill="#222222" stroke="#222222" font-size="8.2">Ø158</text>
</svg></div>
</body></html>
